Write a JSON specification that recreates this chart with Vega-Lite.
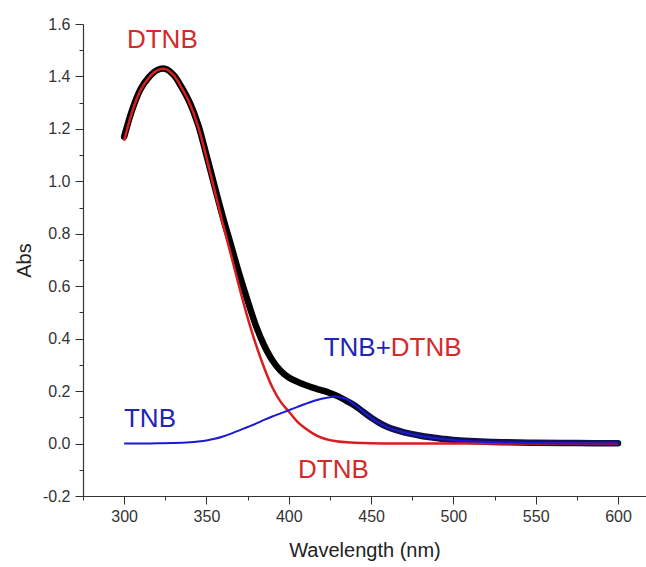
{
  "$schema": "https://vega.github.io/schema/vega-lite/v6.json",
  "autosize": {"type": "none"},
  "padding": {"left": 83, "top": 24, "right": 0, "bottom": 71},
  "width": 563,
  "height": 472,
  "background": "white",
  "config": {
    "view": {"stroke": null},
    "font": "Liberation Sans",
    "axis": {
      "domainColor": "#333333",
      "tickColor": "#333333",
      "labelColor": "#333333",
      "titleColor": "#222222",
      "labelFont": "Liberation Sans",
      "titleFont": "Liberation Sans",
      "labelFontSize": 16,
      "titleFontSize": 20,
      "titleFontWeight": "normal",
      "grid": false
    }
  },
  "datasets": {
    "spectra": [
      {"nm": 300, "s": "Data", "A": 1.17}, {"nm": 305, "s": "Data", "A": 1.275}, {"nm": 310, "s": "Data", "A": 1.352}, {"nm": 315, "s": "Data", "A": 1.397}, {"nm": 320, "s": "Data", "A": 1.424}, {"nm": 325, "s": "Data", "A": 1.429}, {"nm": 330, "s": "Data", "A": 1.406}, {"nm": 335, "s": "Data", "A": 1.358}, {"nm": 340, "s": "Data", "A": 1.298}, {"nm": 345, "s": "Data", "A": 1.215}, {"nm": 350, "s": "Data", "A": 1.1}, {"nm": 355, "s": "Data", "A": 0.98}, {"nm": 360, "s": "Data", "A": 0.863}, {"nm": 365, "s": "Data", "A": 0.755}, {"nm": 370, "s": "Data", "A": 0.645}, {"nm": 375, "s": "Data", "A": 0.545}, {"nm": 380, "s": "Data", "A": 0.45}, {"nm": 385, "s": "Data", "A": 0.375}, {"nm": 390, "s": "Data", "A": 0.318}, {"nm": 395, "s": "Data", "A": 0.278}, {"nm": 400, "s": "Data", "A": 0.252}, {"nm": 405, "s": "Data", "A": 0.236}, {"nm": 410, "s": "Data", "A": 0.223}, {"nm": 415, "s": "Data", "A": 0.212}, {"nm": 420, "s": "Data", "A": 0.203}, {"nm": 425, "s": "Data", "A": 0.193}, {"nm": 430, "s": "Data", "A": 0.18}, {"nm": 435, "s": "Data", "A": 0.163}, {"nm": 440, "s": "Data", "A": 0.145}, {"nm": 445, "s": "Data", "A": 0.122}, {"nm": 450, "s": "Data", "A": 0.099}, {"nm": 455, "s": "Data", "A": 0.079}, {"nm": 460, "s": "Data", "A": 0.063}, {"nm": 465, "s": "Data", "A": 0.052}, {"nm": 470, "s": "Data", "A": 0.043}, {"nm": 475, "s": "Data", "A": 0.036}, {"nm": 480, "s": "Data", "A": 0.03}, {"nm": 485, "s": "Data", "A": 0.025}, {"nm": 490, "s": "Data", "A": 0.021}, {"nm": 495, "s": "Data", "A": 0.017}, {"nm": 500, "s": "Data", "A": 0.014}, {"nm": 510, "s": "Data", "A": 0.01}, {"nm": 520, "s": "Data", "A": 0.007}, {"nm": 530, "s": "Data", "A": 0.005}, {"nm": 550, "s": "Data", "A": 0.003}, {"nm": 575, "s": "Data", "A": 0.002}, {"nm": 600, "s": "Data", "A": 0.001},

      {"nm": 300, "s": "DTNB", "A": 1.155}, {"nm": 305, "s": "DTNB", "A": 1.268}, {"nm": 310, "s": "DTNB", "A": 1.348}, {"nm": 315, "s": "DTNB", "A": 1.395}, {"nm": 320, "s": "DTNB", "A": 1.423}, {"nm": 325, "s": "DTNB", "A": 1.428}, {"nm": 330, "s": "DTNB", "A": 1.405}, {"nm": 335, "s": "DTNB", "A": 1.356}, {"nm": 340, "s": "DTNB", "A": 1.294}, {"nm": 345, "s": "DTNB", "A": 1.208}, {"nm": 350, "s": "DTNB", "A": 1.09}, {"nm": 355, "s": "DTNB", "A": 0.963}, {"nm": 360, "s": "DTNB", "A": 0.837}, {"nm": 365, "s": "DTNB", "A": 0.717}, {"nm": 370, "s": "DTNB", "A": 0.595}, {"nm": 375, "s": "DTNB", "A": 0.48}, {"nm": 380, "s": "DTNB", "A": 0.378}, {"nm": 385, "s": "DTNB", "A": 0.29}, {"nm": 390, "s": "DTNB", "A": 0.215}, {"nm": 395, "s": "DTNB", "A": 0.16}, {"nm": 400, "s": "DTNB", "A": 0.122}, {"nm": 405, "s": "DTNB", "A": 0.085}, {"nm": 410, "s": "DTNB", "A": 0.058}, {"nm": 415, "s": "DTNB", "A": 0.037}, {"nm": 420, "s": "DTNB", "A": 0.022}, {"nm": 425, "s": "DTNB", "A": 0.013}, {"nm": 430, "s": "DTNB", "A": 0.008}, {"nm": 435, "s": "DTNB", "A": 0.005}, {"nm": 440, "s": "DTNB", "A": 0.003}, {"nm": 450, "s": "DTNB", "A": 0.001}, {"nm": 470, "s": "DTNB", "A": 0}, {"nm": 500, "s": "DTNB", "A": 0}, {"nm": 550, "s": "DTNB", "A": 0}, {"nm": 600, "s": "DTNB", "A": 0},

      {"nm": 300, "s": "TNB", "A": 0}, {"nm": 310, "s": "TNB", "A": 0}, {"nm": 320, "s": "TNB", "A": 0.001}, {"nm": 330, "s": "TNB", "A": 0.002}, {"nm": 340, "s": "TNB", "A": 0.005}, {"nm": 345, "s": "TNB", "A": 0.008}, {"nm": 350, "s": "TNB", "A": 0.012}, {"nm": 355, "s": "TNB", "A": 0.018}, {"nm": 360, "s": "TNB", "A": 0.027}, {"nm": 365, "s": "TNB", "A": 0.038}, {"nm": 370, "s": "TNB", "A": 0.05}, {"nm": 375, "s": "TNB", "A": 0.063}, {"nm": 380, "s": "TNB", "A": 0.076}, {"nm": 385, "s": "TNB", "A": 0.09}, {"nm": 390, "s": "TNB", "A": 0.103}, {"nm": 395, "s": "TNB", "A": 0.115}, {"nm": 400, "s": "TNB", "A": 0.127}, {"nm": 405, "s": "TNB", "A": 0.139}, {"nm": 410, "s": "TNB", "A": 0.151}, {"nm": 415, "s": "TNB", "A": 0.162}, {"nm": 420, "s": "TNB", "A": 0.171}, {"nm": 425, "s": "TNB", "A": 0.177}, {"nm": 428, "s": "TNB", "A": 0.179}, {"nm": 430, "s": "TNB", "A": 0.178}, {"nm": 435, "s": "TNB", "A": 0.17}, {"nm": 440, "s": "TNB", "A": 0.148}, {"nm": 445, "s": "TNB", "A": 0.123}, {"nm": 450, "s": "TNB", "A": 0.098}, {"nm": 455, "s": "TNB", "A": 0.078}, {"nm": 460, "s": "TNB", "A": 0.062}, {"nm": 465, "s": "TNB", "A": 0.051}, {"nm": 470, "s": "TNB", "A": 0.042}, {"nm": 475, "s": "TNB", "A": 0.035}, {"nm": 480, "s": "TNB", "A": 0.029}, {"nm": 485, "s": "TNB", "A": 0.024}, {"nm": 490, "s": "TNB", "A": 0.02}, {"nm": 495, "s": "TNB", "A": 0.016}, {"nm": 500, "s": "TNB", "A": 0.013}, {"nm": 510, "s": "TNB", "A": 0.009}, {"nm": 520, "s": "TNB", "A": 0.006}, {"nm": 530, "s": "TNB", "A": 0.004}, {"nm": 550, "s": "TNB", "A": 0.002}, {"nm": 575, "s": "TNB", "A": 0.001}, {"nm": 600, "s": "TNB", "A": 0.001}
    ],
    "labels": [
      {"nm": 301.7, "A": 1.538, "t": "DTNB", "c": "red", "al": "left"},
      {"nm": 462.0, "A": 0.363, "t": "TNB+", "c": "blue", "al": "right"},
      {"nm": 462.0, "A": 0.363, "t": "DTNB", "c": "red", "al": "left"},
      {"nm": 299.9, "A": 0.092, "t": "TNB", "c": "blue", "al": "left"},
      {"nm": 405.6, "A": -0.099, "t": "DTNB", "c": "red", "al": "left"}
    ]
  },
  "encoding": {
    "x": {
      "field": "nm", "type": "quantitative",
      "scale": {"domain": [275, 617], "nice": false, "zero": false},
      "axis": {
        "title": "Wavelength (nm)",
        "values": [275, 300, 325, 350, 375, 400, 425, 450, 475, 500, 525, 550, 575, 600],
        "labelExpr": "datum.value % 50 == 0 ? datum.label : ''",
        "tickSize": {"condition": {"test": "datum.value % 50 == 0", "value": 8}, "value": 4},
        "labelPadding": 4,
        "titlePadding": 16,
        "domainWidth": 1.2
      }
    },
    "y": {
      "field": "A", "type": "quantitative",
      "scale": {"domain": [-0.2, 1.6], "nice": false, "zero": false},
      "axis": {
        "title": "Abs",
        "values": [-0.2, -0.1, 0, 0.1, 0.2, 0.3, 0.4, 0.5, 0.6, 0.7, 0.8, 0.9, 1.0, 1.1, 1.2, 1.3, 1.4, 1.5, 1.6],
        "format": ".1f",
        "labelExpr": "round(datum.value*10) % 2 == 0 ? replace(format(datum.value, '.1f'), '−', '-') : ''",
        "tickSize": {"condition": {"test": "round(datum.value*10) % 2 == 0", "value": 8}, "value": 4},
        "labelPadding": 5,
        "titlePadding": 8,
        "domainWidth": 1.2
      }
    }
  },
  "layer": [
    {
      "data": {"name": "spectra"},
      "transform": [{"filter": "datum.s == 'Data'"}],
      "mark": {
        "type": "line", "strokeWidth": 6.5, "strokeCap": "round", "interpolate": "catmull-rom",
        "color": {
          "gradient": "linear", "x1": 0, "x2": 1, "y1": 0, "y2": 0,
          "stops": [
            {"offset": 0, "color": "#000000"},
            {"offset": 0.42, "color": "#000000"},
            {"offset": 0.5, "color": "#10104a"},
            {"offset": 1, "color": "#12125a"}
          ]
        }
      }
    },
    {
      "data": {"name": "spectra"},
      "transform": [{"filter": "datum.s == 'DTNB'"}],
      "mark": {"type": "line", "strokeWidth": 2.5, "color": "#d81e1e", "interpolate": "catmull-rom"}
    },
    {
      "data": {"name": "spectra"},
      "transform": [{"filter": "datum.s == 'TNB'"}],
      "mark": {"type": "line", "strokeWidth": 2, "color": "#1a1ad0", "interpolate": "catmull-rom"}
    },
    {
      "data": {"name": "labels"},
      "transform": [{"filter": "datum.al == 'left'"}],
      "mark": {"type": "text", "fontSize": 26, "font": "Liberation Sans", "baseline": "middle", "align": "left"},
      "encoding": {
        "text": {"field": "t"},
        "color": {
          "field": "c", "type": "nominal",
          "scale": {"domain": ["red", "blue"], "range": ["#d42a2a", "#2323b4"]},
          "legend": null
        }
      }
    },
    {
      "data": {"name": "labels"},
      "transform": [{"filter": "datum.al == 'right'"}],
      "mark": {"type": "text", "fontSize": 26, "font": "Liberation Sans", "baseline": "middle", "align": "right"},
      "encoding": {
        "text": {"field": "t"},
        "color": {
          "field": "c", "type": "nominal",
          "scale": {"domain": ["red", "blue"], "range": ["#d42a2a", "#2323b4"]},
          "legend": null
        }
      }
    }
  ]
}
